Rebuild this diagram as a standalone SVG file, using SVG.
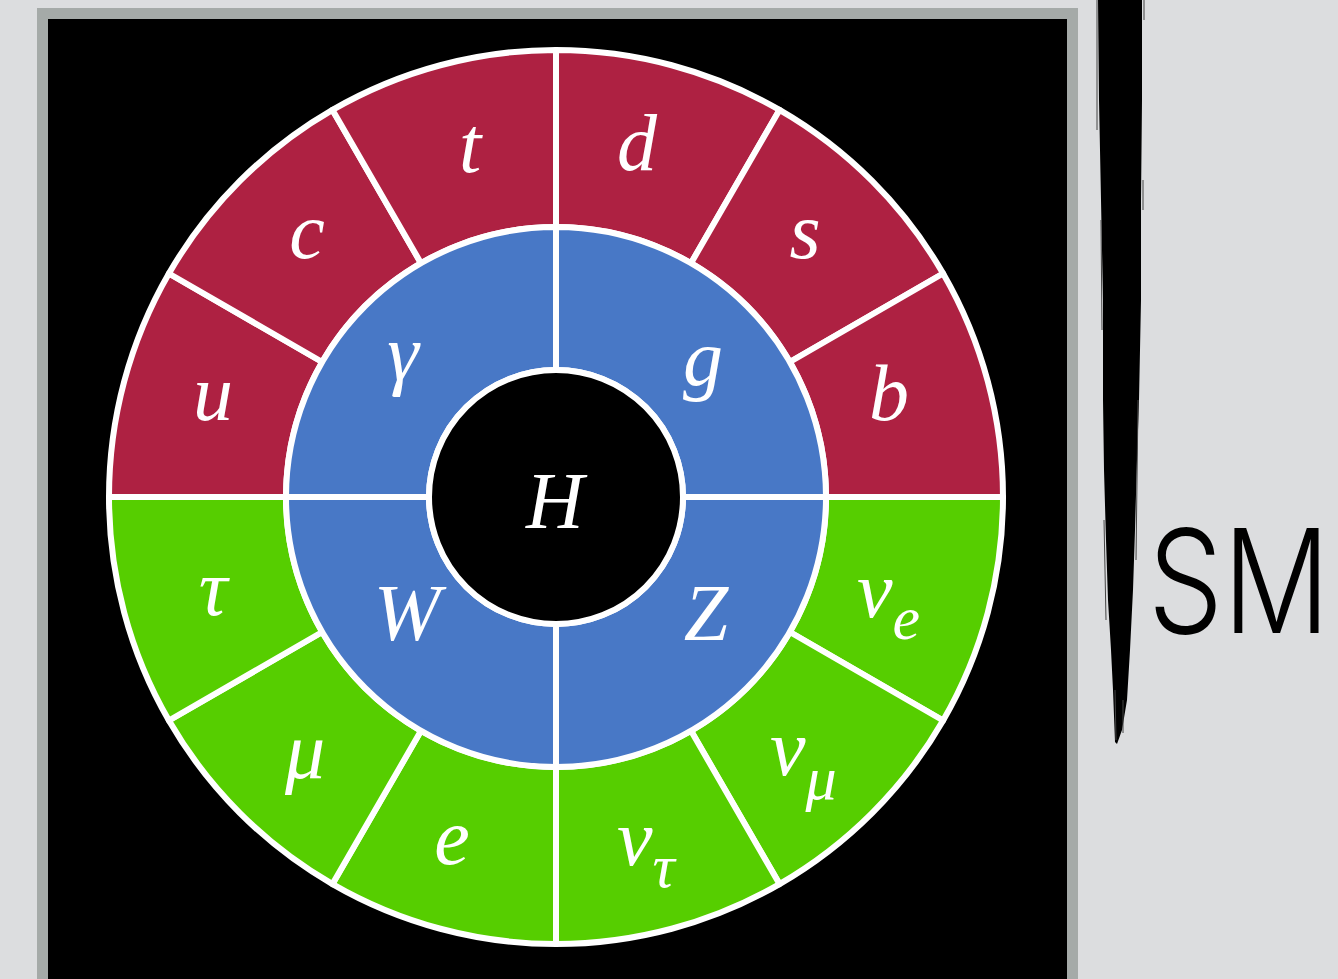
<svg xmlns="http://www.w3.org/2000/svg" width="1338" height="979" viewBox="0 0 1338 979">
<style>
.seg{stroke:#ffffff;stroke-width:6;stroke-linejoin:round}
.q{fill:#ae2142}
.l{fill:#56ce00}
.b{fill:#4878c6}
.h{fill:#000000;stroke:#ffffff;stroke-width:6}
.lbl{font-family:"Liberation Serif","Times New Roman",serif;font-style:italic;font-size:80px;fill:#ffffff;text-anchor:middle}
.nu{font-family:"Liberation Serif","Times New Roman",serif;font-style:italic;font-size:80px;fill:#ffffff}
.sub{font-size:62px}
</style>
<rect width="1338" height="979" fill="#dcdddf"/>
<rect x="37" y="8" width="1041" height="1000" fill="#a5aaa8"/>
<rect x="48" y="19" width="1019" height="1000" fill="#000000"/>

<g id="brush">
<path d="M1098,0 L1099,100 L1101,200 L1103,300 L1103,400 L1104,470 L1106,540 L1108,600 L1111,650 L1113,690 L1115,742 L1117,744 L1122,730 L1127,700 L1130,650 L1133,590 L1135,530 L1137,460 L1139,400 L1141,300 L1141,200 L1142,100 L1142,0 Z" fill="#000000"/>
<path d="M1097,0 L1097,130 M1101,220 L1102,330 M1144,0 L1144,20 M1143,180 L1143,210 M1104,520 L1106,620 M1138,400 L1136,560 M1115,690 L1116,740 M1123,700 L1123,733" stroke="#444" stroke-width="1" fill="none"/>
</g>

<g id="quarks">
<g id="u"><path class="seg q" d="M109,497 A447,447 0 0 1 168.9,273.5 L322.2,362 A270,270 0 0 0 286,497 Z"/><text class="lbl" x="213" y="420">u</text></g>
<g id="c"><path class="seg q" d="M168.9,273.5 A447,447 0 0 1 332.5,109.9 L421,263.2 A270,270 0 0 0 322.2,362 Z"/><text class="lbl" x="307" y="258">c</text></g>
<g id="t"><path class="seg q" d="M332.5,109.9 A447,447 0 0 1 556,50 L556,227 A270,270 0 0 0 421,263.2 Z"/><text class="lbl" x="470" y="172">t</text></g>
<g id="d"><path class="seg q" d="M556,50 A447,447 0 0 1 779.5,109.9 L691,263.2 A270,270 0 0 0 556,227 Z"/><text class="lbl" x="637" y="170">d</text></g>
<g id="s"><path class="seg q" d="M779.5,109.9 A447,447 0 0 1 943.1,273.5 L789.8,362 A270,270 0 0 0 691,263.2 Z"/><text class="lbl" x="805" y="258">s</text></g>
<g id="b"><path class="seg q" d="M943.1,273.5 A447,447 0 0 1 1003,497 L826,497 A270,270 0 0 0 789.8,362 Z"/><text class="lbl" x="889" y="420">b</text></g>
</g>

<g id="leptons">
<g id="nu_e"><path class="seg l" d="M1003,497 A447,447 0 0 1 943.1,720.5 L789.8,632 A270,270 0 0 0 826,497 Z"/><text class="nu" x="857" y="617">ν<tspan class="sub" dy="22">e</tspan></text></g>
<g id="nu_mu"><path class="seg l" d="M943.1,720.5 A447,447 0 0 1 779.5,884.1 L691,730.8 A270,270 0 0 0 789.8,632 Z"/><text class="nu" x="770" y="775">ν<tspan class="sub" dy="24">μ</tspan></text></g>
<g id="nu_tau"><path class="seg l" d="M779.5,884.1 A447,447 0 0 1 556,944 L556,767 A270,270 0 0 0 691,730.8 Z"/><text class="nu" x="617" y="865">ν<tspan class="sub" dy="22">τ</tspan></text></g>
<g id="e"><path class="seg l" d="M556,944 A447,447 0 0 1 332.5,884.1 L421,730.8 A270,270 0 0 0 556,767 Z"/><text class="lbl" x="452" y="864">e</text></g>
<g id="mu"><path class="seg l" d="M332.5,884.1 A447,447 0 0 1 168.9,720.5 L322.2,632 A270,270 0 0 0 421,730.8 Z"/><text class="lbl" x="305" y="778">μ</text></g>
<g id="tau"><path class="seg l" d="M168.9,720.5 A447,447 0 0 1 109,497 L286,497 A270,270 0 0 0 322.2,632 Z"/><text class="lbl" x="213" y="615">τ</text></g>
</g>

<g id="bosons">
<g id="gamma"><path class="seg b" d="M286,497 A270,270 0 0 1 556,227 L556,370 A127,127 0 0 0 429,497 Z"/><text class="lbl" x="403" y="380">γ</text></g>
<g id="g"><path class="seg b" d="M556,227 A270,270 0 0 1 826,497 L683,497 A127,127 0 0 0 556,370 Z"/><text class="lbl" x="703" y="385">g</text></g>
<g id="Z"><path class="seg b" d="M826,497 A270,270 0 0 1 556,767 L556,624 A127,127 0 0 0 683,497 Z"/><text class="lbl" x="706" y="640">Z</text></g>
<g id="W"><path class="seg b" d="M556,767 A270,270 0 0 1 286,497 L429,497 A127,127 0 0 0 556,624 Z"/><text class="lbl" x="407" y="640">W</text></g>
</g>

<g id="H"><circle class="h" cx="556" cy="497" r="127"/><text class="lbl" x="555" y="528">H</text></g>

<g id="SM"><text transform="translate(1148,633) scale(1,1.16)" x="0" y="0" font-family="Inter,'Open Sans',sans-serif" font-weight="300" font-size="124" fill="#000000" textLength="182" lengthAdjust="spacingAndGlyphs">SM</text></g>
</svg>
